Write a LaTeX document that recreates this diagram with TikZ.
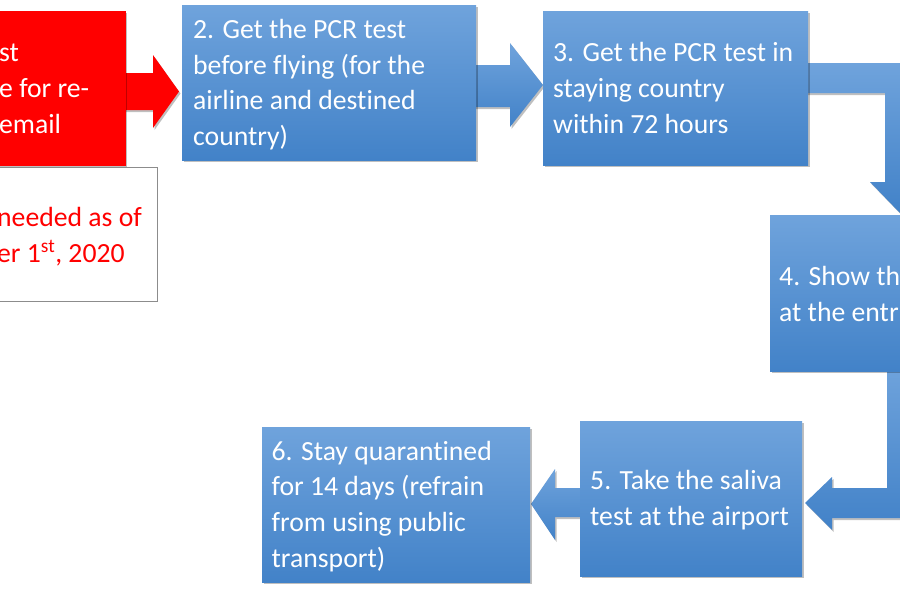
\documentclass[tikz,border=0pt]{standalone}
\usepackage{fontspec}
\setmainfont[RawFeature={-liga;-clig;-calt;-dlig}]{Carlito}
\usetikzlibrary{shadows}
\definecolor{btop}{HTML}{6FA3DC}
\definecolor{bbot}{HTML}{4282C8}
\definecolor{bred}{HTML}{FF0000}
\begin{document}
\begin{tikzpicture}[x=1pt,y=-1pt,
  shd/.style={drop shadow={shadow xshift=1.5pt,shadow yshift=-2pt,opacity=.25,fill=black}},
  bluebox/.style={shd,top color=btop,bottom color=bbot,draw=none,inner sep=0pt,anchor=north west},
  redbox/.style={shd,fill=bred,draw=none,inner sep=0pt,anchor=north east},
  notebox/.style={fill=white,draw=black!45,line width=0.8pt,inner sep=0pt,anchor=north east},
  blockarrow/.style={shd,top color=btop,bottom color=bbot,draw=none},
  redarrow/.style={shd,fill=bred,draw=none},
  txt/.style={text=white,align=left,inner sep=0pt,anchor=base west,font=\fontsize{27.7}{35.6}\selectfont},
  redtxt/.style={txt,text=bred}]
\useasboundingbox (0,0) rectangle (900,600);
\fill[white] (0,0) rectangle (900,600);
\clip (0,0) rectangle (900,600);

% block arrows (behind the boxes)
\path[redarrow] (118,73) -- (153,73) -- (153,55) -- (179,91.5) -- (153,128) -- (153,110) -- (118,110) -- cycle;
\path[blockarrow] (468,65) -- (510,65) -- (510,43) -- (543,85) -- (510,127) -- (510,107) -- (468,107) -- cycle;
\path[blockarrow] (800,63) -- (915,63) -- (915,182) -- (930,182) -- (900,213) -- (870,182) -- (885,182) -- (885,93) -- (800,93) -- cycle;
\path[blockarrow] (887,365) -- (917,365) -- (917,518) -- (832,518) -- (832,530) -- (805,503) -- (832,477) -- (832,488) -- (887,488) -- cycle;
\path[blockarrow] (588,488) -- (555,488) -- (555,469) -- (531,504) -- (555,540) -- (555,517) -- (588,517) -- cycle;

% boxes
\node[redbox,minimum width=146pt,minimum height=155pt] (b1) at (126,11) {};
\node[notebox,minimum width=170pt,minimum height=134pt] (n1) at (158,167) {};
\node[bluebox,minimum width=294pt,minimum height=155pt] (b2) at (182,5) {};
\node[bluebox,minimum width=265pt,minimum height=154pt] (b3) at (543,11) {};
\node[bluebox,minimum width=150pt,minimum height=156pt] (b4) at (770,215) {};
\node[bluebox,minimum width=222pt,minimum height=155pt] (b5) at (580,421) {};
\node[bluebox,minimum width=268pt,minimum height=155pt] (b6) at (262,427) {};

% texts (anchored at the baseline of their last line)
\node[txt] (t1) at (-1,133) {st\\e for re-\\email};
\node[redtxt] (tn) at (-3,262) {needed as of\\er 1\textsuperscript{st}, 2020};
\node[txt] (t2) at (193,145.5) {2. Get the PCR test\\before f\kern0pt lying (for the\\airline and destined\\country)};
\node[txt] (t3) at (553,133) {3. Get the PCR test in\\staying country\\within 72 hours};
\node[txt] (t4) at (779,321) {4. Show th\\at the entr};
\node[txt] (t5) at (590,525) {5. Take the saliva\\test at the airport};
\node[txt] (t6) at (271.5,567) {6. Stay quarant\kern0pt ined\\for 14 days (refrain\\from using public\\transport)};
\end{tikzpicture}
\end{document}
